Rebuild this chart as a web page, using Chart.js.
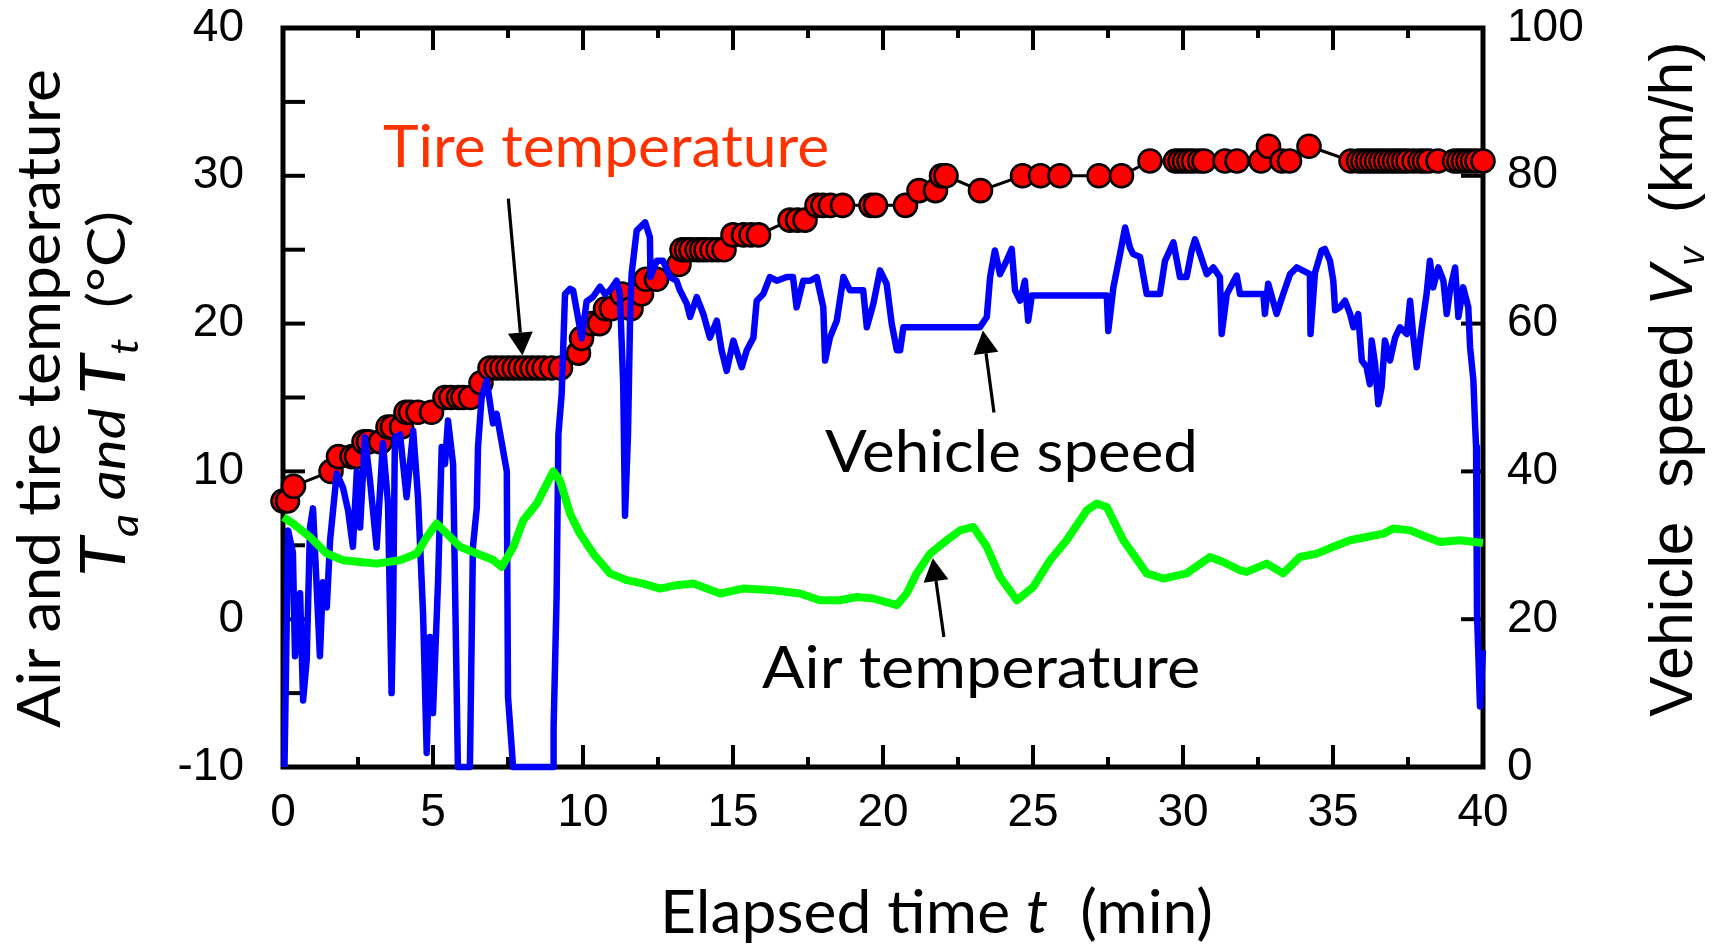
<!DOCTYPE html>
<html><head><meta charset="utf-8">
<script src="https://cdn.jsdelivr.net/npm/chart.js@4.4.1/dist/chart.umd.min.js"></script>
<style>html,body{margin:0;padding:0;background:#fff;}canvas{display:block;}</style>
</head><body>
<canvas id="c" width="1718" height="947" style="width:1718px;height:947px"></canvas>
<script>
// ---------- data ----------
const tireTime = [
  0, 0.15, 0.35, 1.6, 1.85, 2.3, 2.45, 2.7, 2.85, 3.25,
  3.5, 3.65, 3.95, 4.1, 4.25, 4.5, 4.95, 5.4, 5.6, 5.85,
  6.0, 6.25, 6.6, 6.9, 7.1, 7.3, 7.5, 7.7, 7.9, 8.1,
  8.3, 8.5, 8.7, 8.95, 9.25, 9.85, 9.95, 10.3, 10.55, 10.75,
  10.95, 11.3, 11.6, 11.95, 12.1, 12.45, 13.2, 13.3, 13.45, 13.6,
  13.8, 13.95, 14.1, 14.3, 14.5, 14.7, 15.0, 15.35, 15.6, 15.85,
  16.9, 17.15, 17.4, 17.8, 18.0, 18.25, 18.65, 19.6, 19.75, 20.75,
  21.2, 21.75, 21.95, 22.1, 23.25, 24.65, 25.25, 25.9, 27.2, 27.95,
  28.9, 29.75, 29.9, 30.05, 30.2, 30.35, 30.55, 30.7, 31.4, 31.8,
  32.6, 32.85, 33.3, 33.55, 34.2, 35.6, 35.85, 36.0, 36.15, 36.3,
  36.45, 36.6, 36.75, 36.9, 37.05, 37.2, 37.35, 37.5, 37.7, 37.9,
  38.05, 38.2, 38.5, 39.05, 39.2, 39.35, 39.5, 39.65, 39.8, 40.0
];
const tireTemp = [
  8, 8, 9, 10, 11, 11, 11, 12, 12, 12,
  13, 13, 13, 14, 14, 14, 14, 15, 15, 15,
  15, 15, 16, 17, 17, 17, 17, 17, 17, 17,
  17, 17, 17, 17, 17, 18, 19, 20, 20, 21,
  21, 22, 21, 22, 23, 23, 24, 25, 25, 25,
  25, 25, 25, 25, 25, 25, 26, 26, 26, 26,
  27, 27, 27, 28, 28, 28, 28, 28, 28, 28,
  29, 29, 30, 30, 29, 30, 30, 30, 30, 30,
  31, 31, 31, 31, 31, 31, 31, 31, 31, 31,
  31, 32, 31, 31, 32, 31, 31, 31, 31, 31,
  31, 31, 31, 31, 31, 31, 31, 31, 31, 31,
  31, 31, 31, 31, 31, 31, 31, 31, 31, 31
];
const speedTime = [
  0.05, 0.17, 0.33, 0.4, 0.57, 0.67, 0.79, 0.9, 1.0, 1.23,
  1.33, 1.46, 1.57, 1.79, 2.0, 2.17, 2.33, 2.46, 2.57, 2.73,
  2.9, 3.12, 3.33, 3.5, 3.62, 3.67, 3.73, 3.9, 4.12, 4.34,
  4.5, 4.67, 4.79, 4.9, 5.0, 5.17, 5.29, 5.4, 5.5, 5.67,
  5.83, 6.23, 6.33, 6.46, 6.5, 6.62, 6.79, 7.0, 7.12, 7.46,
  7.48, 7.5, 7.67, 9.0, 9.02, 9.12, 9.18, 9.29, 9.4, 9.57,
  9.67, 9.79, 9.96, 10.12, 10.33, 10.57, 10.73, 10.9, 11.12, 11.23,
  11.34, 11.4, 11.5, 11.57, 11.62, 11.79, 12.07, 12.23, 12.25, 12.46,
  12.67, 12.9, 13.12, 13.23, 13.46, 13.57, 13.79, 14.01, 14.23, 14.46,
  14.62, 14.79, 15.01, 15.29, 15.46, 15.68, 15.79, 16.01, 16.23, 16.46,
  16.79, 17.0, 17.12, 17.34, 17.57, 17.79, 18.01, 18.07, 18.23, 18.46,
  18.68, 18.9, 19.34, 19.46, 19.68, 19.9, 20.12, 20.29, 20.46, 20.57,
  20.68, 23.23, 23.46, 23.57, 23.73, 23.9, 24.12, 24.29, 24.4, 24.57,
  24.73, 24.84, 24.96, 27.46, 27.51, 27.68, 27.9, 28.07, 28.23, 28.34,
  28.57, 28.79, 29.23, 29.4, 29.68, 29.9, 30.12, 30.29, 30.4, 30.57,
  30.79, 31.01, 31.23, 31.29, 31.46, 31.79, 31.9, 32.68, 32.73, 32.84,
  33.12, 33.34, 33.57, 33.79, 34.23, 34.25, 34.4, 34.62, 34.73, 34.9,
  35.01, 35.07, 35.23, 35.4, 35.57, 35.68, 35.84, 35.96, 36.12, 36.23,
  36.29, 36.4, 36.51, 36.62, 36.73, 36.9, 37.07, 37.23, 37.46, 37.57,
  37.68, 37.79, 37.96, 38.12, 38.23, 38.34, 38.51, 38.68, 38.79, 38.9,
  39.07, 39.18, 39.34, 39.51, 39.57, 39.68, 39.73, 39.77, 39.8, 39.9,
  40.0
];
const speedValue = [
  0, 32, 29, 15, 23.5, 9, 14.5, 32.4, 35, 15,
  25, 21.6, 30.7, 39.7, 37.8, 34.7, 29.8, 40, 32.4, 44.6,
  38.8, 29.7, 43.8, 35.7, 10, 20.7, 44.6, 45, 36.5, 45.5,
  36.5, 20.7, 1.9, 17.6, 7.3, 25.3, 43.3, 41, 46.9, 41,
  0, 0, 29.7, 35.1, 43.3, 50, 52.3, 46.5, 47.8, 40,
  24.3, 9.5, 0, 0, 5.4, 23, 45, 50.5, 64, 64.7,
  64.5, 61.8, 58, 63, 63.6, 65, 64, 64.5, 65.8, 64,
  51.9, 34, 45, 60.9, 66.7, 72.6, 73.7, 71.7, 66.3, 68.5,
  68.5, 66.3, 65.8, 64.5, 62.7, 60.9, 63.6, 61.3, 58.1, 60.4,
  56.4, 53.6, 57.7, 54.1, 56.4, 58.1, 63.1, 64, 66.3, 65.8,
  66.3, 66.3, 62.2, 65.8, 65.8, 66.3, 62.2, 55, 58.1, 60.4,
  66.3, 64.5, 64.5, 59.5, 62.7, 67.2, 65.4, 60, 56.4, 56.4,
  59.5, 59.5, 60.9, 66.3, 69.9, 66.7, 68.5, 70.1, 64.5, 63.1,
  65.8, 60.4, 63.8, 63.8, 59, 64.9, 69.4, 73, 70.3, 69.4,
  69, 64, 64, 68.5, 71, 66.3, 66.3, 69.9, 71.4, 69.4,
  66.7, 67.6, 66.3, 58.6, 64, 66.5, 64, 64, 61.3, 65.4,
  61.3, 64, 66.7, 67.6, 66.7, 58.6, 66.9, 69.9, 70.1, 68.5,
  65.8, 61.8, 62.2, 63.1, 61.3, 59.5, 61.3, 55, 54.1, 51.8,
  57.7, 54.6, 49.1, 51.4, 57.7, 55, 58.1, 59.5, 58.6, 63.1,
  58.1, 54.1, 59.5, 64, 68.5, 64.9, 67.6, 65.8, 61.3, 64.5,
  67.6, 60.9, 64.9, 62.2, 56.8, 52.3, 46.9, 43.3, 20.8, 8.2,
  15.8
];
const airTime = [
  0.01, 0.34, 0.9, 1.46, 2.01, 2.57, 3.12, 3.9, 4.46, 4.79,
  5.12, 5.46, 5.9, 6.46, 7.01, 7.29, 7.68, 8.01, 8.46, 9.01,
  9.23, 9.57, 9.9, 10.34, 10.9, 11.46, 12.01, 12.57, 13.12, 13.68,
  14.57, 15.34, 16.34, 17.23, 17.9, 18.57, 19.12, 19.68, 20.46, 20.79,
  21.12, 21.57, 22.12, 22.57, 23.01, 23.46, 23.9, 24.46, 25.01, 25.57,
  26.12, 26.79, 27.12, 27.46, 28.01, 28.79, 29.34, 30.12, 30.9, 31.34,
  31.9, 32.12, 32.79, 33.34, 33.9, 34.46, 35.01, 35.57, 36.12, 36.68,
  37.01, 37.57, 38.12, 38.57, 39.23, 40.0
];
const airTemp = [
  6.9, 6.47, 5.56, 4.44, 3.99, 3.87, 3.76, 3.99, 4.44, 5.56,
  6.47, 5.79, 4.9, 4.44, 4.0, 3.53, 4.9, 6.7, 7.82, 10.0,
  9.4, 7.14, 5.79, 4.44, 3.1, 2.64, 2.41, 2.07, 2.3, 2.41,
  1.74, 2.07, 1.96, 1.74, 1.28, 1.28, 1.5, 1.4, 0.95, 1.74,
  3.1, 4.44, 5.34, 6.01, 6.24, 4.9, 2.86, 1.28, 2.18, 3.99,
  5.34, 7.36, 7.82, 7.59, 5.34, 3.1, 2.75, 3.1, 4.21, 3.87,
  3.31, 3.2, 3.76, 3.1, 4.21, 4.44, 4.9, 5.34, 5.56, 5.79,
  6.13, 6.01, 5.56, 5.23, 5.34, 5.16
];
const timeTicks = [0, 5, 10, 15, 20, 25, 30, 35, 40];
const tempTicks = [-10, 0, 10, 20, 30, 40];
const speedTicks = [0, 20, 40, 60, 80, 100];

// ---------- annotations (data coordinates: [time, temperature at text baseline]) ----------
const arrows = [
  { from: [7.51, 28.45], to: [7.98, 17.84] },
  { from: [23.70, 13.99], to: [23.33, 19.53] },
  { from: [22.03, -1.20], to: [21.66, 4.12] }
];
const notes = [
  { segs: [{ t: 'Tire temperature' }], w: 446, h: 41.7, at: [10.77, 30.62], color: '#ff3300' },
  { segs: [{ t: 'Vehicle speed' }], w: 373, h: 41.7, at: [24.28, 9.98], color: '#000' },
  { segs: [{ t: 'Air temperature' }], w: 438, h: 41.7, at: [23.27, -4.68], color: '#000' }
];

const TXT = "Lato, 'Open Sans', sans-serif";
const NUM = "'Liberation Sans', Arial, sans-serif";
Chart.defaults.font.family = NUM;
const AREA = { left: 283, top: 28, right: 1483, bottom: 767 };

// rich text: measured and drawn at one base size, then scaled to target length w and cap height h.
// (px, py) is the centre of the baseline; rot rotates about it.
function fitDraw(ctx, segs, family, w, h, px, py, rot, color) {
  const B = 100;
  let maxF = 0;
  const parts = segs.map(s => {
    const f = (s.f || 1) * (s.sub ? 0.62 : 1);
    if (!s.sub) maxF = Math.max(maxF, s.f || 1);
    const font = (s.italic ? 'italic ' : '') + (B * f).toFixed(1) + 'px ' + family;
    ctx.font = font;
    return { t: s.t, font, w: ctx.measureText(s.t).width, dy: s.sub ? B * 0.2 : 0 };
  });
  const total = parts.reduce((a, p) => a + p.w, 0);
  const kx = w / total;
  const ky = h ? h / (0.716 * B * maxF) : kx;
  ctx.save();
  ctx.translate(px, py);
  ctx.rotate(rot);
  ctx.scale(kx, ky);
  ctx.fillStyle = color;
  ctx.textBaseline = 'alphabetic';
  ctx.textAlign = 'left';
  let x = -total / 2;
  parts.forEach(p => { ctx.font = p.font; ctx.fillText(p.t, x, p.dy); x += p.w; });
  ctx.restore();
}

const deco = {
  id: 'deco',
  beforeDatasetsDraw(chart) {
    const { ctx, chartArea: a, scales } = chart;
    const x = scales.x, y = scales.y, y2 = scales.y2;
    ctx.save();
    ctx.strokeStyle = '#000';
    ctx.lineWidth = 5;
    ctx.strokeRect(a.left, a.top, a.right - a.left, a.bottom - a.top);
    ctx.lineWidth = 4;
    const seg = (x1, y1, x2, y2_) => { ctx.beginPath(); ctx.moveTo(x1, y1); ctx.lineTo(x2, y2_); ctx.stroke(); };
    for (let v = 2.5; v < 40; v += 2.5) {
      const px = x.getPixelForValue(v);
      const L = (v % 5 === 0) ? 22 : 10;
      seg(px, a.bottom, px, a.bottom - L);
      seg(px, a.top, px, a.top + L);
    }
    for (let v = -5; v < 40; v += 5) {
      const py = y.getPixelForValue(v);
      seg(a.left, py, a.left + 22, py);
    }
    for (let v = 20; v < 100; v += 20) {
      const py = y2.getPixelForValue(v);
      seg(a.right, py, a.right - 22, py);
    }
    ctx.restore();
  },
  afterDatasetsDraw(chart) {
    const { ctx, scales } = chart;
    const x = scales.x, y = scales.y;
    ctx.save();
    arrows.forEach(ar => {
      const x1 = x.getPixelForValue(ar.from[0]), y1 = y.getPixelForValue(ar.from[1]);
      const x2 = x.getPixelForValue(ar.to[0]), y2 = y.getPixelForValue(ar.to[1]);
      const ang = Math.atan2(y2 - y1, x2 - x1);
      const hl = 23, hw = 12.5;
      const bx = x2 - hl * Math.cos(ang), by = y2 - hl * Math.sin(ang);
      ctx.strokeStyle = '#000'; ctx.fillStyle = '#000'; ctx.lineWidth = 3.2;
      ctx.beginPath(); ctx.moveTo(x1, y1); ctx.lineTo(bx, by); ctx.stroke();
      ctx.beginPath();
      ctx.moveTo(x2, y2);
      ctx.lineTo(bx + hw * Math.sin(ang), by - hw * Math.cos(ang));
      ctx.lineTo(bx - hw * Math.sin(ang), by + hw * Math.cos(ang));
      ctx.closePath(); ctx.fill();
    });
    notes.forEach(n => {
      fitDraw(ctx, n.segs, TXT, n.w, n.h, x.getPixelForValue(n.at[0]), y.getPixelForValue(n.at[1]), 0, n.color);
    });
    ctx.restore();
  },
  afterDraw(chart) {
    const ctx = chart.ctx;
    const up = -Math.PI / 2;
    fitDraw(ctx, [{ t: 'Elapsed time ' }, { t: 't', italic: true }, { t: '  (min)' }], TXT, 553, 43, 936.5, 933, 0, '#000');
    fitDraw(ctx, [{ t: 'Air and tire temperature' }], TXT, 659, 43, 60, 398.5, up, '#000');
    fitDraw(ctx, [{ t: 'T', italic: true }, { t: 'a', italic: true, sub: true }, { t: ' and ', italic: true, f: 0.8 },
                  { t: 'T', italic: true }, { t: 't', italic: true, sub: true }, { t: '  (\u00B0C)', f: 0.82 }],
            TXT, 366, 45, 125, 394, up, '#000');
    fitDraw(ctx, [{ t: 'Vehicle  speed ' }, { t: 'V', italic: true }, { t: 'v', italic: true, sub: true }, { t: '  (km/h)' }],
            NUM, 675, 43.7, 1691.7, 379.2, up, '#000');
  }
};

const pts = (xs, ys) => xs.map((t, i) => ({ x: t, y: ys[i] }));
const noPad = s => { s.paddingTop = 0; s.paddingBottom = 0; s.paddingLeft = 0; s.paddingRight = 0; };

const chart = new Chart(document.getElementById('c'), {
  type: 'scatter',
  data: {
    datasets: [
      { label: 'Air temperature', data: pts(airTime, airTemp), yAxisID: 'y', showLine: true,
        borderColor: '#00ff00', borderWidth: 8, pointRadius: 0, borderJoinStyle: 'round', tension: 0, order: 0, clip: false },
      { label: 'Vehicle speed', data: pts(speedTime, speedValue), yAxisID: 'y2', showLine: true,
        borderColor: '#0000ff', borderWidth: 6.5, pointRadius: 0, borderJoinStyle: 'round', tension: 0, order: 1, clip: false },
      { label: 'Tire temperature', data: pts(tireTime, tireTemp), yAxisID: 'y', showLine: true,
        borderColor: '#000', borderWidth: 3, pointRadius: 11.5, pointBackgroundColor: '#ff0000',
        pointBorderColor: '#000', pointBorderWidth: 2.6, tension: 0, order: 2, clip: false }
    ]
  },
  options: {
    responsive: false, animation: false, devicePixelRatio: 1,
    layout: { padding: { top: AREA.top, left: 0, right: 0, bottom: 0 } },
    plugins: { legend: { display: false }, tooltip: { enabled: false } },
    scales: {
      x: {
        type: 'linear', min: 0, max: 40,
        grid: { display: false, drawTicks: false }, border: { display: false },
        afterBuildTicks: s => { s.ticks = timeTicks.map(v => ({ value: v })); },
        ticks: { color: '#000', font: { size: 46, family: NUM }, padding: 19, maxRotation: 0, autoSkip: false },
        afterFit: s => { s.height = 947 - AREA.bottom; noPad(s); }
      },
      y: {
        type: 'linear', position: 'left', min: -10, max: 40,
        grid: { display: false, drawTicks: false }, border: { display: false },
        afterBuildTicks: s => { s.ticks = tempTicks.map(v => ({ value: v })); },
        ticks: { color: '#000', font: { size: 46, family: NUM }, padding: 39, autoSkip: false },
        afterFit: s => { s.width = AREA.left; noPad(s); }
      },
      y2: {
        type: 'linear', position: 'right', min: 0, max: 100,
        grid: { display: false, drawTicks: false }, border: { display: false },
        afterBuildTicks: s => { s.ticks = speedTicks.map(v => ({ value: v })); },
        ticks: { color: '#000', font: { size: 46, family: NUM }, padding: 24, autoSkip: false },
        afterFit: s => { s.width = 1718 - AREA.right; noPad(s); }
      }
    }
  },
  plugins: [deco]
});
const dTop = AREA.top - chart.chartArea.top;
if (Math.abs(dTop) > 0.5) {
  chart.options.layout.padding.top += dTop;
  chart.update();
}
</script>
</body></html>
